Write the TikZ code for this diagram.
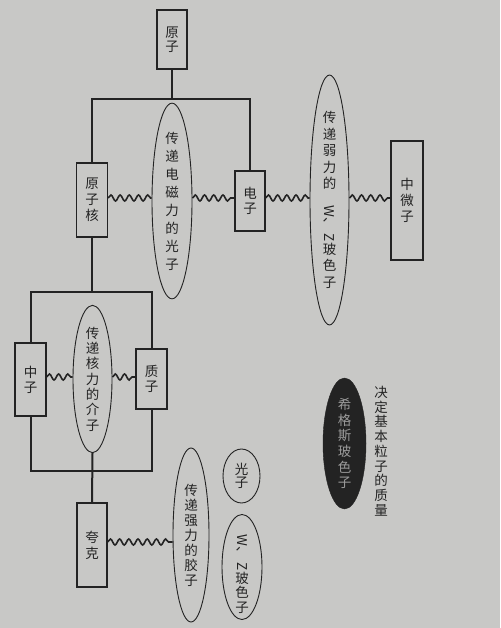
\documentclass[tikz,border=0pt]{standalone}
\usepackage{fontspec}
\usepackage{graphicx}
\newfontfamily\cjk{Noto Sans CJK SC}
\usetikzlibrary{shapes.geometric,decorations.pathmorphing}
\definecolor{paper}{RGB}{200,200,198}
\definecolor{ink}{RGB}{35,35,35}
\definecolor{higgstext}{RGB}{155,155,155}
\begin{document}
\begin{tikzpicture}[x=1pt,y=-1pt,
  box/.style={draw=ink, line width=1.1pt, fill=paper, rectangle, inner sep=0pt, align=center, text=ink},
  oval/.style={draw=ink, line width=0.9pt, fill=paper, ellipse, inner sep=0pt, align=center, text=ink},
  link/.style={draw=ink, line width=2pt},
  wave/.style={draw=ink, line width=1.6pt, decorate, decoration={snake, segment length=9.2pt, amplitude=3pt}},
  fs/.style={font=\cjk\fontsize{13.5}{#1}\selectfont}]
\fill[paper] (0,0) rectangle (500,628);
\useasboundingbox (0,0) rectangle (500,628);

% boxes
\node[box, fs=14, minimum width=30pt, minimum height=59pt] (atom) at (172,39.5) {原\\子};
\node[box, fs=16, minimum width=31pt, minimum height=74pt] (nucleus) at (92,200) {原\\子\\核};
\node[box, fs=15, minimum width=30pt, minimum height=60pt] (electron) at (250,201) {电\\子};
\node[box, fs=16, minimum width=32pt, minimum height=119pt] (neutrino) at (407,200.5) {中\\微\\子};
\node[box, fs=15, minimum width=31pt, minimum height=73pt] (neutron) at (30.5,379.5) {中\\子};
\node[box, fs=15, minimum width=31pt, minimum height=60pt] (proton) at (151.5,379) {质\\子};
\node[box, fs=16, minimum width=30pt, minimum height=84pt] (quark) at (92,545) {夸\\克};

% ellipses
\node[oval, fs=18, minimum width=40pt, minimum height=152pt] (em) at (172,201) {传\\递\\电\\磁\\力\\的\\光\\子};
\node[oval, fs=16.5, minimum width=39pt, minimum height=194pt] (weak) at (329.5,200) {传\\递\\弱\\力\\的\\\rotatebox{-90}{W、 Z}\\玻\\色\\子};
\node[oval, fs=15.3, minimum width=39pt, minimum height=138pt] (meson) at (92.5,379) {传\\递\\核\\力\\的\\介\\子};
\node[oval, fs=15, minimum width=36pt, minimum height=174pt] (gluon) at (191,535) {传\\递\\强\\力\\的\\胶\\子};
\node[oval, fs=13.5, minimum width=37pt, minimum height=54pt] (photon) at (241.5,476) {光\\子};
\node[oval, minimum width=40pt, minimum height=105pt] (wz) at (242,567) {};
\node[fs=14.5, text=ink, align=center, inner sep=0pt] (wztext) at (242,574) {\rotatebox{-90}{W、 Z}\\玻\\色\\子};
\node[ellipse, fill=ink, draw=ink, inner sep=0pt, minimum width=43pt, minimum height=131pt, align=center, fs=15.6, text=higgstext] (higgs) at (344.5,443.5) {希\\格\\斯\\玻\\色\\子};
\node[fs=14.75, text=ink, align=center, inner sep=0pt] (mass) at (381,451) {决\\定\\基\\本\\粒\\子\\的\\质\\量};

% tree connectors
\coordinate (j1) at (172,99);
\coordinate (j2) at (92,292);
\coordinate (j3) at (92,471);
\draw[link] (atom.south) -- (j1);
\draw[link] (nucleus.north) -- (nucleus.north |- j1) -- (electron.north |- j1) -- (electron.north);
\draw[link] (nucleus.south) -- (j2);
\draw[link] (neutron.north) -- (neutron.north |- j2) -- (proton.north |- j2) -- (proton.north);
\draw[link] (neutron.south) -- (neutron.south |- j3) -- (proton.south |- j3) -- (proton.south);
\draw[link] (meson.south) -- (quark.north);

% wavy connectors
\draw[wave] (nucleus.east |- 0,198) -- (em.west |- 0,198);
\draw[wave] (em.east |- 0,198) -- (electron.west |- 0,198);
\draw[wave] (electron.east |- 0,198) -- (weak.west |- 0,198);
\draw[wave] (weak.east |- 0,198) -- (neutrino.west |- 0,198);
\draw[wave] (neutron.east |- 0,377) -- (meson.west |- 0,377);
\draw[wave] (meson.east |- 0,377) -- (proton.west |- 0,377);
\draw[wave] (quark.east |- 0,542) -- (gluon.west |- 0,542);
\end{tikzpicture}
\end{document}
